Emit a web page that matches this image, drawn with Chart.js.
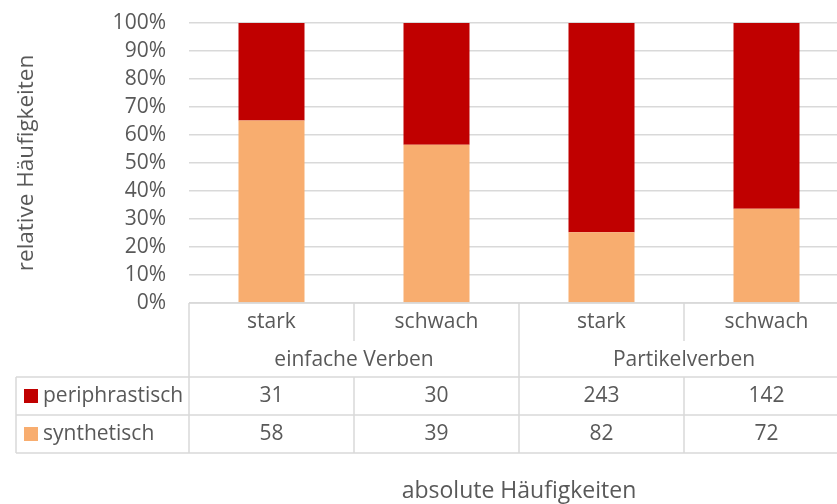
<!DOCTYPE html>
<html lang="de">
<head>
<meta charset="utf-8">
<title>Periphrastische und synthetische Formen</title>
<script src="https://cdn.jsdelivr.net/npm/chart.js@4.4.1/dist/chart.umd.min.js"></script>
<style>
    html, body { margin: 0; padding: 0; background: #fff; overflow: hidden; }
    #wrap { width: 852px; height: 504px; }
</style>
</head>
<body>
<div id="wrap"><canvas id="verben-chart" width="852" height="504"></canvas></div>
<script>
// Daten
const kategorien = ['stark', 'schwach', 'stark', 'schwach'];
const gruppen = ['einfache Verben', 'Partikelverben'];
const periphrastisch = [31, 30, 243, 142];
const synthetisch = [58, 39, 82, 72];
const yTicks = [0, 10, 20, 30, 40, 50, 60, 70, 80, 90, 100];

const FARBE_PERI = '#C00000';
const FARBE_SYN = '#F8AD6F';
const TEXT = '#595959';
const LINIE = '#D9D9D9';
const SCHRIFT = '"Open Sans", "Noto Sans", sans-serif';

// Relative Häufigkeiten aus den absoluten Zahlen
function anteil(werte, andere) {
    return werte.map((v, i) => v / (v + andere[i]) * 100);
}

// Tabelle mit absoluten Häufigkeiten unter dem Diagramm
const tabellePlugin = {
    id: 'datentabelle',
    afterDraw(chart) {
        const ctx = chart.ctx;
        const area = chart.chartArea;
        const xs = chart.scales.x;
        const breite = (area.right - area.left) / kategorien.length;
        const rand = i => xs.getPixelForValue(i) - breite / 2;
        const zeilen = [38, 36, 38, 38];
        const y0 = area.bottom;
        const y1 = y0 + zeilen[0];
        const y2 = y1 + zeilen[1];
        const y3 = y2 + zeilen[2];
        const y4 = y3 + zeilen[3];
        const legendeLinks = 16;

        ctx.save();
        ctx.strokeStyle = LINIE;
        ctx.lineWidth = 1.5;
        const linie = (xa, ya, xb, yb) => {
            ctx.beginPath();
            ctx.moveTo(xa, ya);
            ctx.lineTo(xb, yb);
            ctx.stroke();
        };

        // waagerechte Linien
        linie(area.left, y0, area.right, y0);
        linie(legendeLinks, y2, area.right, y2);
        linie(legendeLinks, y3, area.right, y3);
        linie(legendeLinks, y4, area.right, y4);

        // senkrechte Linien
        linie(legendeLinks, y2, legendeLinks, y4);
        for (let i = 0; i <= kategorien.length; i++) {
            const x = rand(i);
            if (i % 2 === 0) {
                linie(x, y0, x, y4);
            } else {
                linie(x, y0, x, y1);
                linie(x, y2, x, y4);
            }
        }

        ctx.fillStyle = TEXT;
        ctx.font = '21px ' + SCHRIFT;
        ctx.textAlign = 'center';
        ctx.textBaseline = 'middle';

        kategorien.forEach((k, i) => {
            ctx.fillText(k, xs.getPixelForValue(i), (y0 + y1) / 2);
        });
        gruppen.forEach((g, i) => {
            ctx.fillText(g, (rand(i * 2) + rand(i * 2 + 2)) / 2, (y1 + y2) / 2 + 1);
        });

        const reihen = [
            { name: 'periphrastisch', farbe: FARBE_PERI, werte: periphrastisch, y: (y2 + y3) / 2 },
            { name: 'synthetisch', farbe: FARBE_SYN, werte: synthetisch, y: (y3 + y4) / 2 }
        ];
        reihen.forEach(r => {
            ctx.textAlign = 'center';
            ctx.fillStyle = TEXT;
            r.werte.forEach((v, i) => {
                ctx.fillText(String(v), xs.getPixelForValue(i), r.y);
            });
            ctx.fillStyle = r.farbe;
            ctx.fillRect(24, r.y - 7, 14, 14);
            ctx.fillStyle = TEXT;
            ctx.textAlign = 'left';
            ctx.fillText(r.name, 43, r.y);
        });

        // Achsentitel
        ctx.font = '23px ' + SCHRIFT;
        ctx.textAlign = 'center';
        ctx.fillText('absolute Häufigkeiten', (area.left + area.right) / 2, 491);
        ctx.font = '22.5px ' + SCHRIFT;
        ctx.save();
        ctx.translate(27, 163);
        ctx.rotate(-Math.PI / 2);
        ctx.fillText('relative Häufigkeiten', 0, 0);
        ctx.restore();

        ctx.restore();
    }
};

const ctx = document.getElementById('verben-chart').getContext('2d');
new Chart(ctx, {
    type: 'bar',
    data: {
        labels: kategorien,
        datasets: [
            {
                label: 'synthetisch',
                data: anteil(synthetisch, periphrastisch),
                backgroundColor: FARBE_SYN,
                barPercentage: 0.4,
                categoryPercentage: 1
            },
            {
                label: 'periphrastisch',
                data: anteil(periphrastisch, synthetisch),
                backgroundColor: FARBE_PERI,
                barPercentage: 0.4,
                categoryPercentage: 1
            }
        ]
    },
    options: {
        responsive: false,
        animation: false,
        devicePixelRatio: 1,
        layout: { padding: { top: 23, right: 3, bottom: 201, left: 0 } },
        plugins: {
            legend: { display: false },
            tooltip: { enabled: false }
        },
        scales: {
            x: {
                stacked: true,
                display: false
            },
            y: {
                stacked: true,
                min: 0,
                max: 100,
                afterFit: scale => {
                    scale.width = 189;
                    scale.paddingTop = 0;
                    scale.paddingBottom = 0;
                },
                afterBuildTicks: scale => {
                    scale.ticks = yTicks.map(v => ({ value: v }));
                },
                border: { display: false },
                grid: { color: LINIE, lineWidth: 1.5, drawTicks: false },
                ticks: {
                    padding: 23,
                    color: TEXT,
                    font: { family: SCHRIFT, size: 21, lineHeight: 0.1 },
                    callback: v => v + '%'
                }
            }
        }
    },
    plugins: [tabellePlugin]
});
</script>
</body>
</html>
